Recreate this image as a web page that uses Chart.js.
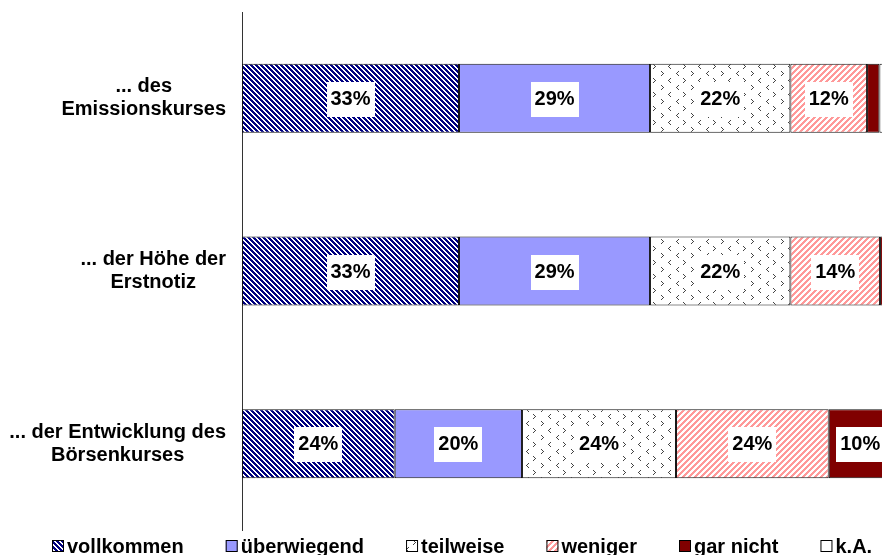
<!DOCTYPE html>
<html>
<head>
<meta charset="utf-8">
<script src="https://cdn.jsdelivr.net/npm/chart.js@4.4.0/dist/chart.umd.min.js"></script>
<style>
html, body { margin: 0; padding: 0; background: #fff; overflow: hidden; }
#wrap { width: 882px; height: 555px; position: relative; }
</style>
</head>
<body>
<div id="wrap"><canvas id="chart"></canvas></div>
<script>
// Kategorien
const categories = [
    ['... des', 'Emissionskurses'],
    ['... der Höhe der', 'Erstnotiz'],
    ['... der Entwicklung des', 'Börsenkurses']
];
const seriesNames = ['vollkommen', 'überwiegend', 'teilweise', 'weniger', 'gar nicht', 'k.A.'];

// Werte in % (aus der Vorlage geschätzt)
const vollkommen   = [33.4, 33.4, 23.5];
const ueberwiegend = [29.4, 29.4, 19.6];
const teilweise    = [21.6, 21.6, 23.7];
const weniger      = [11.8, 13.8, 23.5];
const garNicht     = [1.9, 1.2, 9.7];
const keineAngabe  = [1.9, 0.6, 0];

// Die Vorlage ist rechts abgeschnitten
const xMax = 98.5;

const FONT = '"Liberation Sans", Arial, sans-serif';

// Muster erzeugen
function makePattern(w, h, draw) {
    const c = document.createElement('canvas');
    c.width = w; c.height = h;
    const g = c.getContext('2d');
    g.fillStyle = '#fff';
    g.fillRect(0, 0, w, h);
    draw(g);
    return g.createPattern(c, 'repeat');
}

const navyStripes = makePattern(5, 5, g => {
    g.fillStyle = '#000080';
    for (let y = 0; y < 5; y++)
        for (let x = 0; x < 5; x++)
            if (((x - y + 10) % 5) < 3) g.fillRect(x, y, 1, 1);
});

const pinkStripes = makePattern(6, 6, g => {
    g.fillStyle = '#ff9999';
    for (let y = 0; y < 6; y++)
        for (let x = 0; x < 6; x++)
            if (((x + y) % 6) < 3) g.fillRect(x, y, 1, 1);
});

const chevrons = makePattern(30, 14, g => {
    g.fillStyle = '#444';
    const left = (x, y) => {
        g.fillRect(x + 2, y, 1, 1); g.fillRect(x + 1, y + 1, 1, 1); g.fillRect(x, y + 2, 1, 1);
        g.fillRect(x + 1, y + 3, 1, 1); g.fillRect(x + 2, y + 4, 1, 1);
    };
    const right = (x, y) => {
        g.fillRect(x, y, 1, 1); g.fillRect(x + 1, y + 1, 1, 1); g.fillRect(x + 2, y + 2, 1, 1);
        g.fillRect(x + 1, y + 3, 1, 1); g.fillRect(x, y + 4, 1, 1);
    };
    right(1, 1);
    left(16, 1);
    left(8, 8);
    right(23, 8);
});

const fills = [navyStripes, '#9999ff', chevrons, pinkStripes, '#800000', '#ffffff'];
const values = [vollkommen, ueberwiegend, teilweise, weniger, garNicht, keineAngabe];

// Beschriftung der Balken (weiße Kästchen)
const barLabels = {
    id: 'barLabels',
    afterDatasetsDraw(chart) {
        const ctx = chart.ctx;
        ctx.save();
        ctx.font = 'bold 20px ' + FONT;
        ctx.textAlign = 'center';
        ctx.textBaseline = 'middle';
        chart.data.datasets.forEach((ds, i) => {
            chart.getDatasetMeta(i).data.forEach((bar, j) => {
                const v = ds.data[j];
                if (v < 5) return;
                const txt = Math.round(v) + '%';
                const cx = (bar.x + bar.base) / 2;
                const w = Math.round(ctx.measureText(txt).width + 8);
                const h = 35;
                ctx.fillStyle = '#fff';
                ctx.fillRect(Math.round(cx - w / 2), Math.round(bar.y - h / 2 + 1), w, h);
                ctx.fillStyle = '#000';
                ctx.fillText(txt, cx, bar.y + 1);
            });
        });
        ctx.restore();
    }
};

// Kategorienbeschriftung, zeilenweise zentriert
const catLabels = {
    id: 'catLabels',
    afterDraw(chart) {
        const ctx = chart.ctx;
        const yScale = chart.scales.y;
        ctx.save();
        ctx.font = 'bold 20px ' + FONT;
        ctx.fillStyle = '#000';
        ctx.textAlign = 'center';
        ctx.textBaseline = 'middle';
        categories.forEach((lines, i) => {
            const y = yScale.getPixelForTick(i);
            const bw = Math.max(...lines.map(l => ctx.measureText(l).width));
            const cx = 226 - bw / 2;
            lines.forEach((l, k) => {
                ctx.fillText(l, cx, y + (k - (lines.length - 1) / 2) * 23);
            });
        });
        ctx.restore();
    }
};

// Legende unten
const bottomLegend = {
    id: 'bottomLegend',
    afterDraw(chart) {
        const ctx = chart.ctx;
        ctx.save();
        ctx.font = 'bold 20px ' + FONT;
        ctx.textBaseline = 'middle';
        ctx.textAlign = 'left';
        let x = 52;
        const y = 546;
        chart.data.datasets.forEach(ds => {
            ctx.fillStyle = ds.backgroundColor;
            ctx.fillRect(x, y - 6, 12, 12);
            ctx.strokeStyle = '#000';
            ctx.lineWidth = 1;
            ctx.strokeRect(x + 0.5, y - 5.5, 11, 11);
            ctx.fillStyle = '#000';
            ctx.fillText(ds.label, x + 15, y + 1);
            x += 15 + ctx.measureText(ds.label).width + 42;
        });
        ctx.restore();
    }
};

const chart = new Chart(document.getElementById('chart'), {
    type: 'bar',
    data: {
        labels: categories,
        datasets: seriesNames.map((name, i) => ({
            label: name,
            data: values[i],
            backgroundColor: fills[i],
            borderColor: '#111',
            borderWidth: 1,
            borderSkipped: false,
            barPercentage: 1,
            categoryPercentage: 0.4
        }))
    },
    options: {
        indexAxis: 'y',
        responsive: true,
        maintainAspectRatio: false,
        animation: false,
        layout: { padding: { top: 12, bottom: 25, left: 0, right: 0 } },
        plugins: {
            legend: { display: false },
            tooltip: { enabled: false }
        },
        scales: {
            x: { stacked: true, display: false, min: 0, max: xMax },
            y: {
                stacked: true,
                grid: { display: false, drawTicks: false },
                border: { display: true, color: '#333', width: 1 },
                ticks: { display: false },
                afterFit: s => { s.width = 242; }
            }
        }
    },
    plugins: [barLabels, catLabels, bottomLegend]
});
</script>
</body>
</html>
